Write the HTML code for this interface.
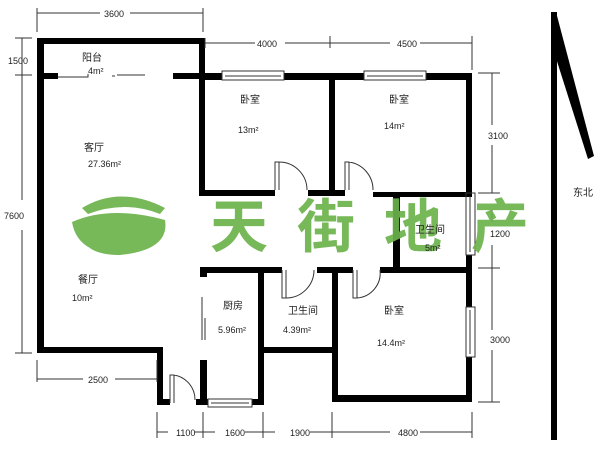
<!DOCTYPE html>
<html><head><meta charset="utf-8"><style>
html,body{margin:0;padding:0;background:#fff}
svg{display:block}
text{font-family:"Liberation Sans","Noto Sans CJK SC",sans-serif;fill:#222}
</style></head><body>
<svg width="600" height="450" viewBox="0 0 600 450" xmlns="http://www.w3.org/2000/svg">
<g fill="#000">
<rect x="37" y="38" width="7" height="315"/>
<rect x="37" y="38" width="168" height="6"/>
<rect x="199" y="38" width="6" height="158"/>
<rect x="40" y="73" width="18" height="6"/>
<rect x="173" y="73" width="32" height="6"/>
<rect x="199" y="73" width="23" height="7"/>
<rect x="284" y="73" width="80" height="7"/>
<rect x="426" y="73" width="46" height="7"/>
<rect x="329" y="73" width="6" height="123"/>
<rect x="466" y="73" width="6" height="120"/>
<rect x="466" y="255" width="6" height="52"/>
<rect x="466" y="357" width="6" height="45"/>
<rect x="199" y="190" width="76" height="6"/>
<rect x="308" y="190" width="37" height="6"/>
<rect x="373" y="192" width="99" height="5"/>
<rect x="393" y="192" width="7" height="77"/>
<rect x="200" y="267" width="82" height="6"/>
<rect x="317" y="267" width="36" height="6"/>
<rect x="380" y="267" width="92" height="6"/>
<rect x="200" y="267" width="7" height="10"/>
<rect x="200" y="360" width="7" height="45"/>
<rect x="258" y="267" width="6" height="138"/>
<rect x="196" y="399" width="12" height="6"/>
<rect x="252" y="399" width="12" height="6"/>
<rect x="263" y="347" width="72" height="6"/>
<rect x="332" y="267" width="6" height="135"/>
<rect x="332" y="395" width="140" height="7"/>
<rect x="37" y="347" width="126" height="6"/>
<rect x="157" y="347" width="6" height="58"/>
<rect x="157" y="399" width="13" height="6"/>
</g>
<g fill="none" stroke="#333" stroke-width="1">
<path d="M58 77H88V74M112 76h3M117 75H145"/>
<rect x="222" y="71" width="62" height="9"/><path d="M225 76H281"/>
<rect x="364" y="71" width="62" height="9"/><path d="M367 76H423"/>
<rect x="466" y="193" width="9" height="62"/><path d="M470 196V252"/>
<rect x="466" y="307" width="9" height="50"/><path d="M470 310V354"/>
<rect x="208" y="399" width="44" height="8"/><path d="M211 403H249"/>
<path d="M275 190V162H279V190M279 162A28 28 0 0 1 307 190"/>
<path d="M345 190V162H349V190M349 162A28 28 0 0 1 373 190"/>
<path d="M282 270V298H286V270M286 298A28 28 0 0 0 314 270"/>
<path d="M353 270V298H357V270M357 298A25 25 0 0 0 380 270"/>
<path d="M170 403V375H174V403M174 375A25 25 0 0 1 195 400"/>
<path d="M202 297V340M205 318V340"/>
<path d="M37 8V32M203 8V32M37 13H100M130 13H203"/>
<path d="M205 38V48M205 43H255M285 43H330M330 36V48M330 43H390M420 43H472M472 36V70"/>
<path d="M15 38H32M15 75H32M22 38V75M22 75V200M22 230V353M15 353H32"/>
<path d="M478 73H500M478 193H500M478 268H500M478 402H500M492 73V125M492 145V193M492 210V222M492 245V268M492 268V330M492 350V402"/>
<path d="M37 360V382M157 360V382M37 379H83M115 379H157"/>
<path d="M157 412V438M203 412V438M263 412V438M332 412V438M472 412V438M157 432H168M195 432H203M203 432H215M245 432H263M263 432H275M310 432H332M332 432H390M420 432H472"/>
</g>
<rect x="551" y="12" width="6" height="428" fill="#000"/>
<polygon points="551,12 556,12 594,156 588,159 555,55" fill="#000"/>
<g fill="#6cb24c" opacity="0.92">
<path d="M82 208 Q120 185 165 208 L160 214 Q125 200 88 214 Z"/>
<path d="M72 222 Q110 205 165 220 Q170 250 120 255 Q85 255 82 235 Q100 225 125 228 Q95 232 90 248 Q75 240 72 222Z"/>
</g>
<g font-size="58" font-weight="bold" opacity="0.92">
<text x="210" y="247" style="fill:#6cb24c">天</text>
<text x="297" y="247" style="fill:#6cb24c">街</text>
<text x="384" y="247" style="fill:#6cb24c">地</text>
<text x="471" y="247" style="fill:#6cb24c">产</text>
</g>
<g font-size="10">
<text x="82" y="61">阳台</text><text x="88" y="74" font-size="9">4m²</text>
<text x="84" y="151">客厅</text><text x="88" y="167" font-size="9">27.36m²</text>
<text x="240" y="103">卧室</text><text x="238" y="133" font-size="9">13m²</text>
<text x="389" y="103">卧室</text><text x="384" y="129" font-size="9">14m²</text>
<text x="78" y="283">餐厅</text><text x="72" y="301" font-size="9">10m²</text>
<text x="223" y="309">厨房</text><text x="218" y="333" font-size="9">5.96m²</text>
<text x="288" y="314">卫生间</text><text x="283" y="333" font-size="9">4.39m²</text>
<text x="384" y="314">卧室</text><text x="377" y="346" font-size="9">14.4m²</text>
<text x="415" y="233">卫生间</text><text x="425" y="251" font-size="9">5m²</text>
<text x="573" y="196">东北</text>
</g>
<g font-size="9">
<text x="104" y="17">3600</text><text x="257" y="47">4000</text><text x="397" y="47">4500</text>
<text x="8" y="64">1500</text><text x="4" y="219">7600</text>
<text x="488" y="139">3100</text><text x="490" y="237">1200</text><text x="490" y="343">3000</text>
<text x="88" y="383">2500</text><text x="176" y="436">1100</text><text x="225" y="436">1600</text>
<text x="290" y="436">1900</text><text x="398" y="436">4800</text>
</g>
</svg>
</body></html>
